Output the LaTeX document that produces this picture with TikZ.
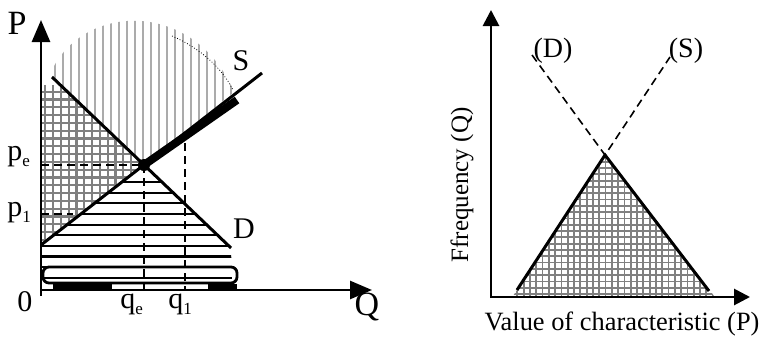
\documentclass[tikz,border=0pt]{standalone}
\usepackage{fontspec}
\setmainfont{Liberation Serif}
\usepackage{tikz}
\usetikzlibrary{arrows.meta}
\definecolor{gridgray}{HTML}{808080}
\definecolor{hatchgray}{HTML}{ABABAB}
\newcommand{\lowsub}[1]{\raisebox{-0.5ex}{\fontsize{8.5}{9}\selectfont #1}}

\begin{document}
\begin{tikzpicture}[x=0.5pt,y=-0.5pt,>={Triangle[length=11pt,width=9pt]},font=\fontsize{15}{17}\selectfont]
  \useasboundingbox (0,0) rectangle (763,338);
  \tikzset{
    curve/.style={line width=1.5pt},
    guide/.style={line width=1pt,dash pattern=on 4pt off 2.5pt},
    axis/.style={->,line width=1.3pt}
  }
  % left: market diagram
  \coordinate (O) at (41,290);
  \coordinate (E) at (144,165);
  \coordinate (Dtop) at (52,77);
  \coordinate (Dend) at (231,248);
  \coordinate (Sbot) at (41,245);
  \coordinate (Stop) at (262,73);
  \begin{scope}
    \clip (52,70) .. controls (85,2) and (195,0) .. (234,92) -- (E) -- (Dtop) -- cycle;
    \foreach \x in {55,63,...,239}
      \draw[hatchgray,line width=1.4pt] (\x,0) -- (\x,170);
  \end{scope}
  \draw[densely dotted,line width=0.4pt] (172,36) .. controls (200,48) and (222,68) .. (233,90);
  \begin{scope}
    \clip (41,85) -- (60,85) -- (E) -- (Sbot) -- cycle;
    \foreach \k in {0,...,26}
      \draw[gridgray,line width=1.1pt] (45.3+7.8*\k,80) -- (45.3+7.8*\k,250);
    \foreach \k in {0,...,22}
      \draw[gridgray,line width=1.1pt] (40,91.7+7.8*\k) -- (150,91.7+7.8*\k);
  \end{scope}
  \begin{scope}
    \clip (E) -- (Dend) -- (232,284) -- (41,284) -- (Sbot) -- cycle;
    \foreach \k in {0,...,9}
      \draw[line width=1.1pt] (40,182+10.65*\k) -- (240,182+10.65*\k);
  \end{scope}
  \draw[line width=1.4pt,rounded corners=3pt] (43,267) -- (237,267) -- (237,283) -- (43,283) -- cycle;
  \fill (53,284) rectangle (112,291);
  \fill (208,284) rectangle (237,291);
  \draw[guide] (41,165) -- (E);
  \draw[guide] (41,214) -- (73,214);
  \draw[guide] (E) -- (144,290);
  \draw[guide] (185,143) -- (185,290);
  \draw[curve] (Dtop) -- (Dend);
  \draw[curve] (Sbot) -- (Stop);
  \draw[line width=4pt] (E) -- (237,100);
  \fill (E) circle (3pt);
  \draw[axis] (41,296) -- (41,20);
  \draw[axis] (O) -- (372,290);
  \node (P) at (17,23) {\fontsize{17}{19}\selectfont P};
  \node (Q) at (367,307) {\fontsize{17}{19}\selectfont Q};
  \node (zero) at (25,302) {0};
  \node (S) at (241,61) {S};
  \node (D) at (244,229) {D};
  \node[anchor=base west,inner sep=0pt] (pe) at (7,160) {p\lowsub{e}};
  \node[anchor=base west,inner sep=0pt] (p1) at (7,216) {p\lowsub{1}};
  \node[anchor=base west,inner sep=0pt] (qe) at (120,308) {q\lowsub{e}};
  \node[anchor=base west,inner sep=0pt] (q1) at (168,308) {q\lowsub{1}};
  % right: frequency diagram
  \coordinate (peak) at (605,155);
  \begin{scope}
    \clip (513,296) -- (peak) -- (714,296) -- cycle;
    \foreach \k in {0,...,33}
      \draw[gridgray,line width=0.9pt] (511+6.3*\k,150) -- (511+6.3*\k,297);
    \foreach \k in {0,...,24}
      \draw[gridgray,line width=0.9pt] (505,294-6.3*\k) -- (720,294-6.3*\k);
  \end{scope}
  \draw[line width=1.5pt] (517,290) -- (peak) -- (709,291);
  \draw[line width=0.8pt,dash pattern=on 4pt off 2.5pt] (532,55) -- (peak) -- (670,57);
  \draw[->,line width=1.4pt,>={Triangle[length=8pt,width=8pt]}] (491,298) -- (491,10);
  \draw[->,line width=1.4pt,>={Triangle[length=8pt,width=8pt]}] (490,297) -- (750,297);
  \node (Dlab) at (553,51) {\fontsize{14}{16}\selectfont (D)};
  \node (Slab) at (686,51) {\fontsize{14}{16}\selectfont (S)};
  \node[anchor=base] (xlab) at (622,330) {\fontsize{13.2}{15}\selectfont Value of characteristic (P)};
  \node[anchor=base,rotate=90] (ylab) at (468,185) {\fontsize{12.5}{15}\selectfont Ffrequency (Q)};
\end{tikzpicture}
\end{document}
